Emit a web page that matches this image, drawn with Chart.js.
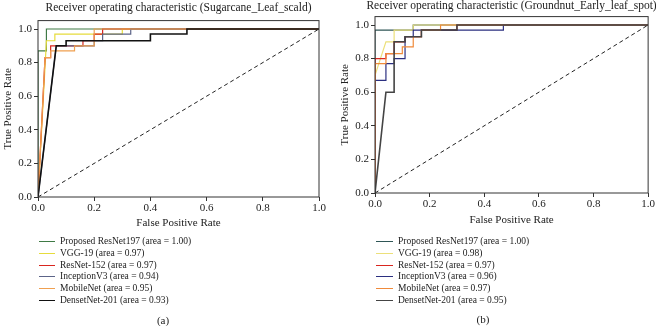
<!DOCTYPE html>
<html>
<head>
<meta charset="utf-8">
<script src="https://cdn.jsdelivr.net/npm/chart.js@4.4.1/dist/chart.umd.min.js"></script>
<style>
  html, body { margin: 0; padding: 0; background: #fff; }
  #wrap { position: relative; width: 656px; height: 326px; }
  .panel { position: absolute; top: 0; width: 328px; height: 326px; }
</style>
</head>
<body>
<div id="wrap">
  <div class="panel" style="left:0"><canvas id="rocA" width="328" height="326"></canvas></div>
  <div class="panel" style="left:328px"><canvas id="rocB" width="328" height="326"></canvas></div>
</div>
<script>
// nombres de modelos y areas (AUC) de la leyenda
const modelNames = ['Proposed ResNet197', 'VGG-19', 'ResNet-152', 'InceptionV3', 'MobileNet', 'DensetNet-201'];
const areasA = [1.00, 0.97, 0.97, 0.94, 0.95, 0.93];
const areasB = [1.00, 0.98, 0.97, 0.96, 0.97, 0.95];

// marcas de los ejes
const axisTicks = [0, 0.2, 0.4, 0.6, 0.8, 1.0];

// curvas ROC (fpr, tpr) - Sugarcane_Leaf_scald
const proposedA = [[0, 0], [0, 0.87], [0.03, 0.87], [0.03, 1], [1, 1]];
const vggA = [[0, 0], [0.03, 0.93], [0.06, 0.93], [0.06, 0.97], [0.3, 0.97], [0.3, 1], [1, 1]];
const resnet152A = [[0, 0], [0.025, 0.83], [0.045, 0.83], [0.045, 0.9], [0.16, 0.9], [0.16, 0.93], [0.2, 0.93], [0.2, 0.97], [0.23, 0.97], [0.23, 1], [1, 1]];
const inceptionA = [[0, 0], [0.065, 0.9], [0.2, 0.9], [0.2, 0.93], [0.23, 0.93], [0.23, 0.97], [0.33, 0.97], [0.33, 1], [1, 1]];
const mobileA = [[0, 0], [0.025, 0.83], [0.045, 0.83], [0.045, 0.87], [0.13, 0.87], [0.13, 0.9], [0.2, 0.9], [0.2, 1], [1, 1]];
const densetA = [[0, 0], [0.065, 0.9], [0.1, 0.9], [0.1, 0.93], [0.4, 0.93], [0.4, 0.97], [0.53, 0.97], [0.53, 1], [1, 1]];

// curvas ROC (fpr, tpr) - Groundnut_Early_leaf_spot
const proposedB = [[0, 0], [0, 0.97], [0.14, 0.97], [0.14, 1], [1, 1]];
const vggB = [[0, 0], [0, 0.7], [0.04, 0.9], [0.07, 0.9], [0.07, 0.97], [0.14, 0.97], [0.14, 1], [1, 1]];
const resnet152B = [[0, 0], [0, 0.8], [0.04, 0.8], [0.04, 0.83], [0.07, 0.83], [0.07, 0.9], [0.11, 0.9], [0.11, 0.93], [0.17, 0.93], [0.17, 0.97], [0.3, 0.97], [0.3, 1], [1, 1]];
const inceptionB = [[0, 0], [0, 0.67], [0.04, 0.67], [0.04, 0.77], [0.07, 0.77], [0.07, 0.8], [0.11, 0.8], [0.11, 0.93], [0.14, 0.93], [0.14, 0.97], [0.47, 0.97], [0.47, 1], [1, 1]];
const mobileB = [[0, 0], [0, 0.77], [0.04, 0.77], [0.04, 0.83], [0.1, 0.83], [0.1, 0.87], [0.14, 0.87], [0.14, 0.93], [0.17, 0.93], [0.17, 0.97], [0.24, 0.97], [0.24, 1], [1, 1]];
const densetB = [[0, 0], [0.04, 0.6], [0.07, 0.6], [0.07, 0.9], [0.11, 0.9], [0.11, 0.93], [0.17, 0.93], [0.17, 0.97], [0.3, 0.97], [0.3, 1], [1, 1]];

const diagonal = [[0, 0], [1, 1]];

const colorsA = ['#3f7a45', '#e6dc3c', '#d9261f', '#5c6488', '#f0a050', '#111111'];
const colorsB = ['#2f5656', '#ece07a', '#d9261f', '#2b2f80', '#f08a3a', '#444444'];

const FONT = '"Liberation Serif", "DejaVu Serif", serif';
const TEXT = '#222';

// borde completo, titulo centrado en el area, leyenda vertical y etiqueta (a)/(b)
const rocExtras = {
    id: 'rocExtras',
    afterDatasetsDraw(chart) {
        const { ctx, chartArea: a } = chart;
        ctx.save();
        ctx.strokeStyle = '#333';
        ctx.lineWidth = 1;
        ctx.strokeRect(a.left, a.top, a.right - a.left, a.bottom - a.top);
        ctx.restore();
    },
    afterDraw(chart, args, opts) {
        const { ctx, chartArea: a } = chart;
        ctx.save();
        ctx.fillStyle = TEXT;
        ctx.textBaseline = 'middle';

        ctx.font = opts.titleSize + 'px ' + FONT;
        ctx.textAlign = 'center';
        ctx.fillText(opts.title, (a.left + a.right) / 2, opts.titleY);

        ctx.font = opts.fontSize + 'px ' + FONT;
        ctx.textAlign = 'left';
        let row = 0;
        chart.data.datasets.forEach(ds => {
            if (ds.skipLegend) return;
            const y = Math.round(opts.top + row * opts.gap) + 0.5;
            ctx.strokeStyle = ds.borderColor;
            ctx.lineWidth = 1;
            ctx.beginPath();
            ctx.moveTo(opts.lineX0, y);
            ctx.lineTo(opts.lineX1, y);
            ctx.stroke();
            ctx.fillText(ds.label, opts.textX, y);
            row++;
        });

        ctx.font = '11px ' + FONT;
        ctx.textAlign = 'center';
        ctx.fillText(opts.caption, opts.captionX, opts.captionY);
        ctx.restore();
    }
};

function crearDatasets(series, colors, areas) {
    const sets = series.map((pts, i) => ({
        label: `${modelNames[i]} (area = ${areas[i].toFixed(2)})`,
        data: pts.map(p => ({ x: p[0], y: p[1] })),
        borderColor: colors[i],
        borderWidth: i === 5 ? 1.6 : 1.2,
        pointRadius: 0,
        tension: 0,
        fill: false,
        order: series.length - i
    }));
    sets.push({
        label: '',
        skipLegend: true,
        data: diagonal.map(p => ({ x: p[0], y: p[1] })),
        borderColor: '#222',
        borderWidth: 1,
        borderDash: [4, 3],
        pointRadius: 0,
        order: 0
    });
    return sets;
}

function crearConfig(series, colors, areas, geo) {
    const font = { family: FONT, size: 11 };
    return {
        type: 'line',
        data: { datasets: crearDatasets(series, colors, areas) },
        plugins: [rocExtras],
        options: {
            responsive: false,
            animation: false,
            layout: { padding: { top: geo.padTop, left: 0, right: geo.padRight, bottom: geo.padBottom } },
            plugins: {
                legend: { display: false },
                tooltip: { enabled: false },
                title: { display: false },
                rocExtras: geo.extras
            },
            scales: {
                x: {
                    type: 'linear', min: 0, max: 1,
                    ticks: { padding: 1, color: TEXT, font, maxRotation: 0, callback: v => v.toFixed(1) },
                    afterBuildTicks: s => { s.ticks = axisTicks.map(v => ({ value: v })); },
                    grid: { display: true, drawOnChartArea: false, drawTicks: true, tickLength: 4, color: '#333' },
                    border: { display: false },
                    title: { display: true, text: 'False Positive Rate', color: TEXT, font, padding: 0 },
                    afterFit: s => { s.height = geo.xHeight; }
                },
                y: {
                    type: 'linear', min: 0, max: 1.05,
                    ticks: { padding: 2, color: TEXT, font, callback: v => v.toFixed(1) },
                    afterBuildTicks: s => { s.ticks = axisTicks.map(v => ({ value: v })); },
                    grid: { display: true, drawOnChartArea: false, drawTicks: true, tickLength: 4, color: '#333' },
                    border: { display: false },
                    title: { display: true, text: 'True Positive Rate', color: TEXT, font, padding: geo.yTitlePad },
                    afterFit: s => { s.width = geo.yWidth; }
                }
            }
        }
    };
}

document.addEventListener('DOMContentLoaded', function() {
    new Chart(document.getElementById('rocA'), crearConfig(
        [proposedA, vggA, resnet152A, inceptionA, mobileA, densetA], colorsA, areasA, {
            padTop: 20.6, padRight: 9, padBottom: 96, xHeight: 33,
            yWidth: 38, yTitlePad: 2,
            extras: { title: 'Receiver operating characteristic (Sugarcane_Leaf_scald)', titleSize: 11.5, titleY: 8,
                      top: 240.7, gap: 11.9, lineX0: 39, lineX1: 55, textX: 60, fontSize: 9.5,
                      caption: '(a)', captionX: 163, captionY: 321 }
        }));

    new Chart(document.getElementById('rocB'), crearConfig(
        [proposedB, vggB, resnet152B, inceptionB, mobileB, densetB], colorsB, areasB, {
            padTop: 16.6, padRight: 6, padBottom: 99, xHeight: 34,
            yWidth: 47, yTitlePad: 11,
            extras: { title: 'Receiver operating characteristic (Groundnut_Early_leaf_spot)', titleSize: 11.5, titleY: 5.5,
                      top: 240.7, gap: 11.9, lineX0: 48, lineX1: 65, textX: 70, fontSize: 9.5,
                      caption: '(b)', captionX: 155, captionY: 320 }
        }));
});
</script>
</body>
</html>
